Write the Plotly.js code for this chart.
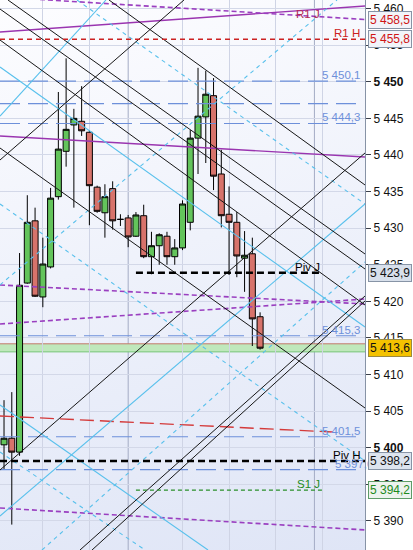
<!DOCTYPE html>
<html>
<head>
<meta charset="utf-8">
<script src="https://cdn.plot.ly/plotly-3.0.1.min.js"></script>
<style>
  html, body { margin:0; padding:0; background:#ffffff; }
  #wrap { position:relative; width:413px; height:550px; background:#ffffff; overflow:hidden; }
  #bg { position:absolute; left:0; top:0; width:365px; height:550px;
        background:linear-gradient(165deg, #fdfdff 0%, #eff2fb 45%, #dfe5f6 100%); }
  #chart { position:absolute; left:0; top:0; width:413px; height:550px; }
</style>
</head>
<body>
<div id="wrap"><div id="bg"></div><div id="chart"></div></div>
<script>
// ---------- data ----------
const candleIdx = [0,1,2,3,4,5,6,7,8,9,10,11,12,13,14,15,16,17,18,19,20,21,22,23,24,25,26,27,28,29,30,31,32,33];
const openP  = [5400.4,5401.3,5399.4,5422.5,5431.0,5420.6,5424.7,5434.3,5440.5,5444.1,5444.6,5443.1,5435.6,5432.1,5435.4,5431.2,5431.4,5428.9,5431.7,5426.1,5427.6,5428.9,5426.1,5427.3,5430.8,5442.3,5445.2,5448.1,5437.4,5431.9,5430.8,5425.9,5426.5,5417.9];
const highP  = [5406.5,5407.6,5426.6,5434.5,5432.8,5428.7,5435.5,5448.6,5453.2,5446.3,5449.4,5443.3,5435.8,5436.0,5436.4,5431.9,5431.8,5432.2,5433.2,5429.5,5429.3,5429.5,5428.5,5433.8,5443.4,5451.9,5451.5,5450.5,5440.7,5435.7,5432.2,5429.6,5428.7,5418.5];
const lowP   = [5397.0,5389.5,5398.9,5422.4,5420.6,5419.2,5424.5,5433.9,5438.4,5432.8,5442.6,5430.4,5432.1,5428.7,5429.8,5430.3,5427.4,5428.8,5425.9,5423.7,5425.0,5425.0,5425.0,5427.0,5429.7,5437.4,5438.9,5435.2,5430.1,5423.6,5423.3,5421.3,5413.9,5413.4];
const closeP = [5401.3,5399.4,5422.2,5430.8,5420.7,5425.1,5434.1,5440.8,5443.5,5445.0,5443.3,5435.8,5432.3,5434.3,5431.0,5431.2,5428.8,5431.8,5426.1,5427.6,5429.1,5426.1,5427.3,5433.3,5442.3,5445.3,5448.3,5437.1,5431.7,5430.8,5426.2,5426.3,5417.6,5413.6];

// price axis ticks
const tickValues = [5390,5395,5400,5405,5410,5415,5420,5425,5430,5435,5440,5445,5450,5455,5460];
const boldTicks  = [5400,5450];

// time grid and day separators (candle index)
const timeGrid = [5, 11, 23, 29, 35, 41];
const daySeparators = [16, 40];

// pivot levels
const r1J = 5458.5, r1H = 5455.8, pivJ = 5423.9, pivH = 5398.2, s1J = 5394.2;
const lastPrice = 5413.6;
const bandTop = 5414.2, bandBottom = 5413.1;

// retracement levels (blue long dashes)
const fibLevels  = [5450.1, 5447.0, 5444.3, 5415.3, 5401.5, 5397.0];
const fibLabeled = [true, false, true, true, true, true];

// trend lines: [idx0, price0, idx1, price1]
const blackLines = [
  [13.53,5461.17,46.52,5435.90],
  [0.51,5461.17,46.52,5426.47],
  [-0.52,5459.94,46.52,5424.42],
  [-0.52,5455.70,46.52,5419.50],
  [-0.52,5440.95,46.52,5405.43],
  [-0.52,5439.31,23.19,5461.17],
  [-0.52,5396.96,46.52,5440.27],
  [9.79,5386.03,46.52,5420.73],
  [11.34,5386.03,46.52,5420.05]
];
const blueSolidLines = [
  [-0.52,5445.32,13.14,5461.17],
  [-0.52,5452.02,46.52,5416.50],
  [-0.52,5405.84,26.29,5386.03],
  [-0.52,5390.68,46.52,5433.30]
];
const blueDashLines = [
  [9.40,5461.17,46.52,5433.30],
  [-0.52,5422.24,42.91,5461.17],
  [-0.52,5433.30,46.52,5398.19],
  [4.89,5386.03,46.52,5425.38],
  [-0.52,5399.42,18.17,5386.03]
];
const purpleSolidLines = [
  [-0.52,5456.80,46.52,5460.35],
  [-0.52,5442.59,46.52,5439.72]
];
const purpleDashLines = [
  [-0.52,5461.58,46.52,5458.51],
  [-0.52,5422.24,46.52,5419.64],
  [-0.52,5416.91,46.52,5420.32],
  [-0.52,5391.77,46.52,5388.77]
];
const redDashLines = [
  [-0.52,5404.34,42.40,5402.15]
];

// ---------- helpers ----------
const XMIN = -0.52, XMAX = 46.52;
const FONT = '"Liberation Sans", Arial, sans-serif';
function fmt(v, dec) {
  const s = v.toFixed(dec);
  const parts = s.split('.');
  const intp = parts[0].replace(/\B(?=(\d{3})+(?!\d))/g, ' ');
  return parts.length > 1 ? intp + ',' + parts[1] : intp;
}
function seg(l, color, width, dash) {
  return {type:'line', xref:'x', yref:'y', x0:l[0], y0:l[1], x1:l[2], y1:l[3],
          line:{color:color, width:width, dash:dash||'solid'}, layer:'above'};
}

const shapes = [];
daySeparators.forEach(d => shapes.push({type:'line', xref:'x', yref:'paper', x0:d, x1:d, y0:0, y1:1,
  line:{color:'#a3abc4', width:1}, layer:'below'}));
shapes.push({type:'rect', xref:'paper', yref:'y', x0:0, x1:1, y0:bandBottom, y1:bandTop,
  fillcolor:'#bfe8bb', line:{width:0}, layer:'below'});
shapes.push({type:'line', xref:'paper', yref:'y', x0:0, x1:1, y0:bandTop, y1:bandTop,
  line:{color:'#c47a6c', width:1}, layer:'below'});
shapes.push({type:'line', xref:'paper', yref:'y', x0:0, x1:1, y0:bandBottom, y1:bandBottom,
  line:{color:'#74c474', width:1}, layer:'below'});
fibLevels.forEach(v => shapes.push({type:'line', xref:'x', yref:'y', x0:XMIN, x1:45.6, y0:v, y1:v,
  line:{color:'#6d90da', width:1.2, dash:'20px,8px'}, layer:'above'}));
purpleSolidLines.forEach(l => shapes.push(seg(l, '#9a35b0', 1.3)));
purpleDashLines.forEach(l => shapes.push(seg(l, '#9a3fc0', 1.6, '5px,3px')));
redDashLines.forEach(l => shapes.push(seg(l, '#d43a3a', 1.4, '14px,6px')));
blueSolidLines.forEach(l => shapes.push(seg(l, '#58c0ec', 1.1)));
blueDashLines.forEach(l => shapes.push(seg(l, '#58c0ec', 1.1, '4px,4px')));
blackLines.forEach(l => shapes.push(seg(l, '#161616', 1)));
shapes.push({type:'line', xref:'x', yref:'y', x0:XMIN, x1:XMAX, y0:r1H, y1:r1H, line:{color:'#cc2222', width:1.4, dash:'5px,4px'}});
shapes.push({type:'line', xref:'x', yref:'y', x0:XMIN, x1:XMAX, y0:pivH, y1:pivH, line:{color:'#000', width:2.5, dash:'7px,4px'}});
shapes.push({type:'line', xref:'x', yref:'y', x0:17, x1:41, y0:pivJ, y1:pivJ, line:{color:'#000', width:2.5, dash:'7px,4px'}});
shapes.push({type:'line', xref:'x', yref:'y', x0:17, x1:41, y0:s1J, y1:s1J, line:{color:'#2a8f2a', width:1.2, dash:'4px,3px'}});

const annotations = [];
fibLevels.forEach((v, i) => {
  if (!fibLabeled[i]) return;
  const last = (i === fibLevels.length - 1);
  annotations.push({xref:'x', yref:'y', x: last ? 42.4 : 46.1, y:v, xanchor: last ? 'left' : 'right', yanchor:'bottom',
    yshift:-2, text: fmt(v, 1), showarrow:false, font:{family:FONT, size:11.5, color:'#6d90da'}});
});
const nameLbl = (txt, x, y, color) => annotations.push({xref:'x', yref:'y', x:x, y:y, xanchor:'right', yanchor:'bottom',
  yshift:-2, text:txt, showarrow:false, font:{family:FONT, size:11.5, color:color}});
nameLbl('R1 J', 41.0, r1J, '#b32a55');
nameLbl('R1 H', 46.1, r1H, '#cc2222');
nameLbl('Piv J', 41.0, pivJ, '#000');
nameLbl('Piv H', 46.1, pivH, '#000');
nameLbl('S1 J', 41.0, s1J, '#1e8c1e');
const box = (v, color, bg, border) => annotations.push({xref:'paper', yref:'y', x:1, y:v, xanchor:'left', yanchor:'middle',
  xshift:3, text:fmt(v,1), showarrow:false, font:{family:FONT, size:12, color:color},
  bgcolor:bg, bordercolor:border, borderwidth:1, borderpad:1});
box(r1J, '#d01515', '#f2f4f9', '#8794a6');
box(r1H, '#d01515', '#f2f4f9', '#8794a6');
box(pivJ, '#111', '#d8e0eb', '#8794a6');
box(lastPrice, '#111', '#f4c200', '#9a8a40');
box(pivH, '#111', '#dde4ee', '#8794a6');
box(s1J, '#1d8a1d', '#edf3ee', '#5d9c68');

const tickText = tickValues.map(v => boldTicks.includes(v) ? '<b>' + fmt(v,0) + '</b>' : fmt(v,0));

const trace = {
  type:'candlestick', x:candleIdx, open:openP, high:highP, low:lowP, close:closeP,
  increasing:{fillcolor:'#63c45b', line:{color:'#000', width:1}},
  decreasing:{fillcolor:'#d7736b', line:{color:'#000', width:1}},
  whiskerwidth:0, hoverinfo:'skip', showlegend:false
};

const layout = {
  width:413, height:550,
  margin:{l:0, r:48, t:0, b:0, pad:0},
  paper_bgcolor:'rgba(0,0,0,0)', plot_bgcolor:'rgba(0,0,0,0)',
  showlegend:false, boxgap:0.12, boxgroupgap:0.12,
  xaxis:{range:[XMIN, XMAX], showgrid:true, gridcolor:'#cfd4e5', gridwidth:1,
         tickmode:'array', tickvals:timeGrid, showticklabels:false, ticks:'', zeroline:false,
         showline:false, rangeslider:{visible:false}, fixedrange:true},
  yaxis:{side:'right', range:[5386.03, 5461.17], tickmode:'array', tickvals:tickValues, ticktext:tickText,
         showgrid:true, gridcolor:'#d3d8e8', gridwidth:1, zeroline:false,
         ticks:'outside', ticklen:5, tickcolor:'#3a3f4a', showline:true, linecolor:'#8793a6', linewidth:1,
         tickfont:{family:FONT, size:12, color:'#111'}, fixedrange:true},
  shapes:shapes, annotations:annotations
};

Plotly.newPlot('chart', [trace], layout, {staticPlot:true, displayModeBar:false});
</script>
</body>
</html>
